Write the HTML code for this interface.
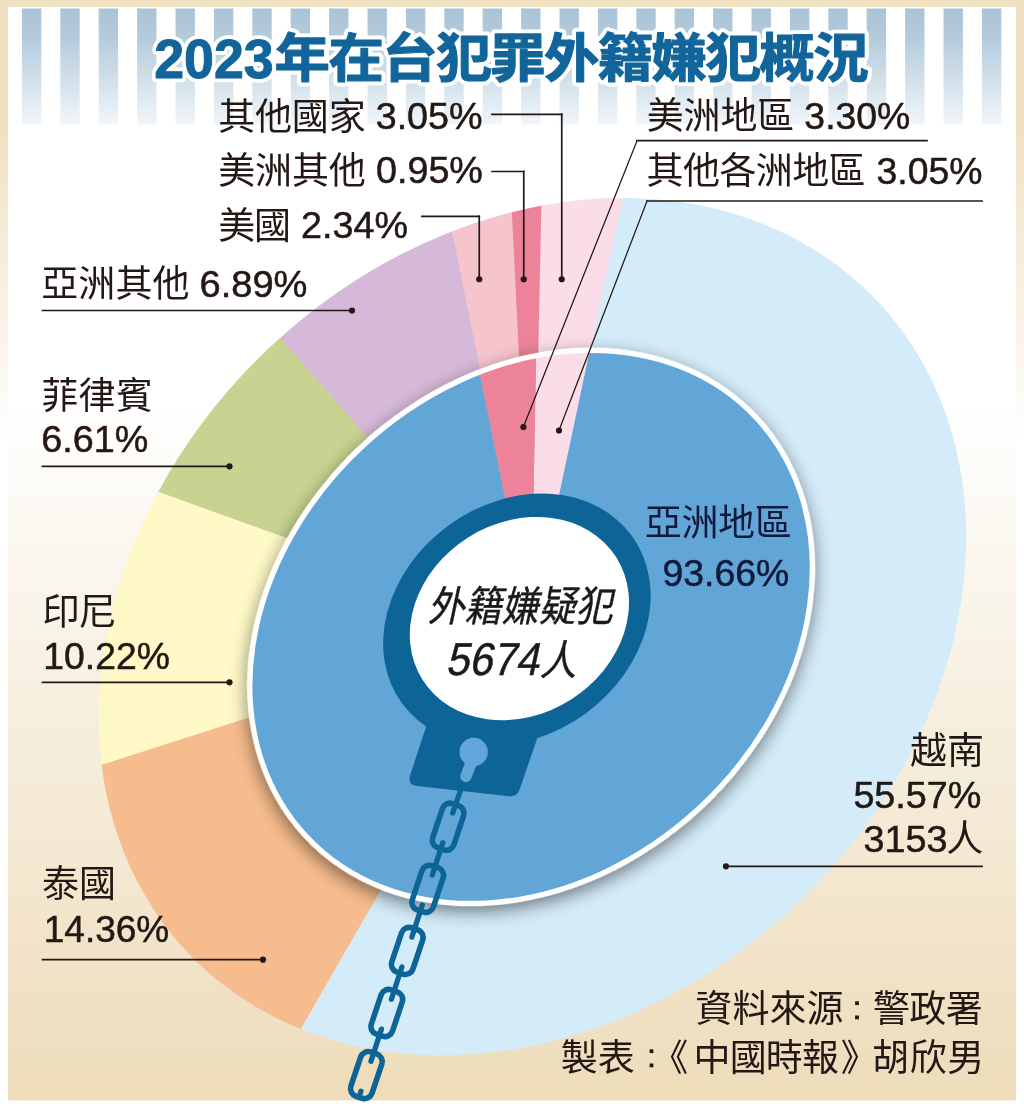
<!DOCTYPE html>
<html lang="zh-Hant"><head><meta charset="utf-8"><title>2023年在台犯罪外籍嫌犯概況</title>
<style>html,body{margin:0;padding:0;background:#fff}body{width:1024px;height:1109px;overflow:hidden;font-family:"Liberation Sans","Noto Sans CJK TC",sans-serif}svg{display:block;will-change:transform}</style></head><body>
<svg width="1024" height="1109" viewBox="0 0 1024 1109" font-family="'Liberation Sans', 'Noto Sans CJK TC', sans-serif">
<title>2023年在台犯罪外籍嫌犯概況</title>
<desc>2023年在台犯罪外籍嫌犯概況。外籍嫌疑犯 5674人。亞洲地區 93.66%、美洲地區 3.30%、其他各洲地區 3.05%。越南 55.57% 3153人、泰國 14.36%、印尼 10.22%、菲律賓 6.61%、亞洲其他 6.89%、美國 2.34%、美洲其他 0.95%、其他國家 3.05%。資料來源：警政署　製表：《中國時報》胡欣男</desc>
<defs>
<linearGradient id="gframe" x1="0" y1="0" x2="0" y2="1"><stop offset="0" stop-color="#f0e1c3"/><stop offset="0.12" stop-color="#f0e1c3"/><stop offset="0.4" stop-color="#ffffff"/><stop offset="1" stop-color="#ffffff"/></linearGradient>
<linearGradient id="gpanel" x1="0" y1="0" x2="0" y2="1"><stop offset="0" stop-color="#ffffff"/><stop offset="0.36" stop-color="#ffffff"/><stop offset="0.7" stop-color="#f5ecd9"/><stop offset="1" stop-color="#eedcba"/></linearGradient>
<linearGradient id="gstripe" x1="0" y1="0" x2="0" y2="1"><stop offset="0" stop-color="#a9c3d6"/><stop offset="0.25" stop-color="#b4cbdb"/><stop offset="1" stop-color="#f1f6fa"/></linearGradient>
<filter id="shadow" x="-15%" y="-15%" width="130%" height="130%"><feGaussianBlur in="SourceAlpha" stdDeviation="9"/><feOffset dx="4" dy="-4"/><feComponentTransfer><feFuncA type="linear" slope="0.5"/></feComponentTransfer><feMerge><feMergeNode/><feMergeNode in="SourceGraphic"/></feMerge></filter>
</defs>
<rect width="1024" height="1109" fill="url(#gframe)"/>
<rect x="8" y="7" width="1008" height="1093.5" fill="url(#gpanel)"/>
<rect x="21.9" y="8.5" width="19.4" height="116" fill="url(#gstripe)"/>
<rect x="60.3" y="8.5" width="19.4" height="116" fill="url(#gstripe)"/>
<rect x="98.7" y="8.5" width="19.4" height="116" fill="url(#gstripe)"/>
<rect x="137.1" y="8.5" width="19.4" height="116" fill="url(#gstripe)"/>
<rect x="175.5" y="8.5" width="19.4" height="116" fill="url(#gstripe)"/>
<rect x="213.9" y="8.5" width="19.4" height="116" fill="url(#gstripe)"/>
<rect x="252.3" y="8.5" width="19.4" height="116" fill="url(#gstripe)"/>
<rect x="290.7" y="8.5" width="19.4" height="116" fill="url(#gstripe)"/>
<rect x="329.1" y="8.5" width="19.4" height="116" fill="url(#gstripe)"/>
<rect x="367.5" y="8.5" width="19.4" height="116" fill="url(#gstripe)"/>
<rect x="405.9" y="8.5" width="19.4" height="116" fill="url(#gstripe)"/>
<rect x="444.3" y="8.5" width="19.4" height="116" fill="url(#gstripe)"/>
<rect x="482.7" y="8.5" width="19.4" height="116" fill="url(#gstripe)"/>
<rect x="521.1" y="8.5" width="19.4" height="116" fill="url(#gstripe)"/>
<rect x="559.5" y="8.5" width="19.4" height="116" fill="url(#gstripe)"/>
<rect x="597.9" y="8.5" width="19.4" height="116" fill="url(#gstripe)"/>
<rect x="636.3" y="8.5" width="19.4" height="116" fill="url(#gstripe)"/>
<rect x="674.7" y="8.5" width="19.4" height="116" fill="url(#gstripe)"/>
<rect x="713.1" y="8.5" width="19.4" height="116" fill="url(#gstripe)"/>
<rect x="751.5" y="8.5" width="19.4" height="116" fill="url(#gstripe)"/>
<rect x="789.9" y="8.5" width="19.4" height="116" fill="url(#gstripe)"/>
<rect x="828.3" y="8.5" width="19.4" height="116" fill="url(#gstripe)"/>
<rect x="866.7" y="8.5" width="19.4" height="116" fill="url(#gstripe)"/>
<rect x="905.1" y="8.5" width="19.4" height="116" fill="url(#gstripe)"/>
<rect x="943.5" y="8.5" width="19.4" height="116" fill="url(#gstripe)"/>
<rect x="981.9" y="8.5" width="19.4" height="116" fill="url(#gstripe)"/>
<g transform="translate(532.37,626.64) rotate(136.63) scale(474.39,383.25)">
<circle r="1" fill="#d4ebf9"/>
<path d="M0 0L-0.75904 0.65104A1 1 0 0 0 -0.62169 0.78326Z" fill="#fbdde9"/>
<path d="M0 0L-0.62306 0.78217A1 1 0 0 0 -0.56698 0.82373Z" fill="#ec8399"/>
<path d="M0 0L-0.56842 0.82274A1 1 0 0 0 -0.44745 0.89431Z" fill="#f5c4cc"/>
<path d="M0 0L-0.44901 0.89353A1 1 0 0 0 -0.03002 0.99955Z" fill="#d6b9d9"/>
<path d="M0 0L-0.03176 0.99950A1 1 0 0 0 0.37962 0.92514Z" fill="#c8d391"/>
<path d="M0 0L0.37800 0.92580A1 1 0 0 0 0.86119 0.50829Z" fill="#fef9c7"/>
<path d="M0 0L0.86030 0.50979A1 1 0 0 0 0.93746 -0.34808Z" fill="#f6bc8d"/>
</g>
<g transform="translate(531.1,626.89) rotate(137.26)">
<ellipse rx="309.71" ry="249.66" fill="#fff" filter="url(#shadow)"/>
<g transform="scale(308.71,248.66)">
<circle r="1" fill="#62a6d8"/>
<path d="M0 0L-0.75126 0.66000A1 1 0 0 0 -0.61084 0.79176Z" fill="#fbdde9"/>
<path d="M0 0L-0.61153 0.79122A1 1 0 0 0 -0.43916 0.89841Z" fill="#ec8399"/>
</g>
<ellipse rx="307.21" ry="247.16" fill="none" stroke="#fff" stroke-width="5"/>
</g>
<g id="cuff">
<g fill="none" stroke="#0d6597" stroke-linecap="round">
<rect x="437" y="803.35" width="22.3" height="46.7" rx="8" stroke-width="5.6" transform="rotate(18.5 448.15 826.7)"/>
<path d="M460.6 790L452.75 812.95" stroke-width="5.3"/>
<rect x="416.55" y="865.45" width="22.3" height="46.7" rx="8" stroke-width="5.6" transform="rotate(18.5 427.7 888.8)"/>
<path d="M442.76 842.82L432.3 875.05" stroke-width="5.3"/>
<rect x="396.1" y="927.55" width="22.3" height="46.7" rx="8" stroke-width="5.6" transform="rotate(18.5 407.25 950.9)"/>
<path d="M422.31 904.92L411.85 937.15" stroke-width="5.3"/>
<rect x="375.65" y="989.65" width="22.3" height="46.7" rx="8" stroke-width="5.6" transform="rotate(18.5 386.8 1013)"/>
<path d="M401.86 967.02L391.4 999.25" stroke-width="5.3"/>
<rect x="355.2" y="1051.75" width="22.3" height="46.7" rx="8" stroke-width="5.6" transform="rotate(18.5 366.35 1075.1)"/>
<path d="M381.41 1029.12L370.95 1061.35" stroke-width="5.3"/>
<path d="M360.96 1091.22L360 1094.07" stroke-width="5.3"/>
</g>
<path d="M431 712 L426 727 L410.3 774.8 Q406.8 785 417 785.9 L509 796.3 Q517 797.2 519.6 789.6 L537 739 L541.5 726 Z" fill="#0d6597"/>
<g transform="translate(516.9,619.6) rotate(143.8)"><ellipse rx="142.2" ry="116.4" fill="#0d6597"/></g>
<g transform="translate(519.4,618.6) rotate(147.7)"><ellipse rx="114.6" ry="96" fill="#fff"/></g>
<circle cx="473.7" cy="752" r="14.2" fill="#62a6d8"/>
<path d="M471.5 762 L466 776.3" stroke="#62a6d8" stroke-width="11.5" stroke-linecap="round"/>
</g>
<path d="M492 114.3 L561.75 114.3" fill="none" stroke="#231815" stroke-width="1.7" stroke-linecap="square"/>
<path d="M561.75 114.3 L561.75 279.25" fill="none" stroke="#231815" stroke-width="1.7" stroke-linecap="square"/>
<circle cx="561.75" cy="279.25" r="3.1" fill="#231815"/>
<path d="M492 171.5 L523.75 171.5" fill="none" stroke="#231815" stroke-width="1.7" stroke-linecap="square"/>
<path d="M523.75 171.5 L523.75 279.25" fill="none" stroke="#231815" stroke-width="1.7" stroke-linecap="square"/>
<circle cx="523.75" cy="279.25" r="3.1" fill="#231815"/>
<path d="M421.8 216.3 L479.25 216.3" fill="none" stroke="#231815" stroke-width="1.7" stroke-linecap="square"/>
<path d="M479.25 216.3 L479.25 279.25" fill="none" stroke="#231815" stroke-width="1.7" stroke-linecap="square"/>
<circle cx="479.25" cy="279.25" r="3.1" fill="#231815"/>
<path d="M927 140.7 L637 140.7" fill="none" stroke="#231815" stroke-width="1.7" stroke-linecap="square"/>
<path d="M637 140.7 L523.4 427" fill="none" stroke="#231815" stroke-width="1.25" stroke-linecap="square"/>
<circle cx="523.4" cy="427" r="3.1" fill="#231815"/>
<path d="M982 201 L647 201" fill="none" stroke="#231815" stroke-width="1.7" stroke-linecap="square"/>
<path d="M647 201 L559 430.5" fill="none" stroke="#231815" stroke-width="1.25" stroke-linecap="square"/>
<circle cx="559" cy="430.5" r="3.1" fill="#231815"/>
<path d="M42.5 310.5 L352 310.5" fill="none" stroke="#231815" stroke-width="1.7" stroke-linecap="square"/>
<circle cx="352" cy="310.5" r="3.1" fill="#231815"/>
<path d="M42.5 466.3 L229.5 466.3" fill="none" stroke="#231815" stroke-width="1.7" stroke-linecap="square"/>
<circle cx="229.5" cy="466.3" r="3.1" fill="#231815"/>
<path d="M42.5 682.3 L229.5 682.3" fill="none" stroke="#231815" stroke-width="1.7" stroke-linecap="square"/>
<circle cx="229.5" cy="682.3" r="3.1" fill="#231815"/>
<path d="M42.5 959.7 L263 959.7" fill="none" stroke="#231815" stroke-width="1.7" stroke-linecap="square"/>
<circle cx="263" cy="959.7" r="3.1" fill="#231815"/>
<path d="M982 866.3 L726 866.3" fill="none" stroke="#231815" stroke-width="1.7" stroke-linecap="square"/>
<circle cx="726" cy="866.3" r="3.1" fill="#231815"/>
<text x="218.2 255.01 291.82 328.63" y="130.16" font-size="37" fill="#231815">其他國家</text>
<text transform="translate(375.66,128.9) scale(1.02,1)" font-size="37" fill="#231815" stroke="#231815" stroke-width="0.5">3.05%</text>
<text x="218.31 255.11 291.91 328.71" y="183.87" font-size="37" fill="#231815">美洲其他</text>
<text transform="translate(375.93,183.2) scale(1.02,1)" font-size="37" fill="#231815" stroke="#231815" stroke-width="0.5">0.95%</text>
<text x="218.31 254.01" y="238.87" font-size="37" fill="#231815">美國</text>
<text transform="translate(301,237.6) scale(1.02,1)" font-size="37" fill="#231815" stroke="#231815" stroke-width="0.5">2.34%</text>
<text x="646.71 683.54 720.38 757.21" y="128.62" font-size="37" fill="#231815">美洲地區</text>
<text transform="translate(804.37,128.8) scale(1.01,1)" font-size="37" fill="#231815" stroke="#231815" stroke-width="0.5">3.30%</text>
<text x="646.6 683 719.4 755.81 792.21 828.61" y="183.92" font-size="37" fill="#231815">其他各洲地區</text>
<text transform="translate(876.48,184.1) scale(1.01,1)" font-size="37" fill="#231815" stroke="#231815" stroke-width="0.5">3.05%</text>
<text x="41.24 78.36 115.48 152.61" y="297.25" font-size="37" fill="#231815">亞洲其他</text>
<text transform="translate(199.46,296.8) scale(1.03,1)" font-size="37" fill="#231815" stroke="#231815" stroke-width="0.5">6.89%</text>
<text x="41.13 78.51 115.88" y="408.76" font-size="37" fill="#231815">菲律賓</text>
<text transform="translate(41.28,452.1) scale(1.02,1)" font-size="37" fill="#231815" stroke="#231815" stroke-width="0.5">6.61%</text>
<text x="42.49 79.17" y="624.86" font-size="37" fill="#231815">印尼</text>
<text transform="translate(43.25,669) scale(1.01,1)" font-size="37" fill="#231815" stroke="#231815" stroke-width="0.5">10.22%</text>
<text x="41.96 79.11" y="897.23" font-size="37" fill="#231815">泰國</text>
<text transform="translate(43.78,941.6) scale(1,1)" font-size="37" fill="#231815" stroke="#231815" stroke-width="0.5">14.36%</text>
<text x="909.93 947.08" y="763.72" font-size="37" fill="#231815">越南</text>
<text transform="translate(853.39,807.5) scale(1.02,1)" font-size="37" fill="#231815" stroke="#231815" stroke-width="0.5">55.57%</text>
<text transform="translate(863.47,852) scale(1.02,1)" font-size="37" fill="#231815" stroke="#231815" stroke-width="0.5">3153</text>
<text x="946.24" y="852.29" font-size="37" fill="#231815">人</text>
<text x="644.74 681.43 718.12 754.81" y="536.24" font-size="37" fill="#121a3c">亞洲地區</text>
<text transform="translate(662.54,585.7) scale(1.01,1)" font-size="37" fill="#121a3c" stroke="#121a3c" stroke-width="0.5">93.66%</text>
<text x="695.35 732.41 769.47 806.53" y="1022.47" font-size="37" fill="#231815">資料來源</text>
<text x="873 909.35 945.7" y="1022.42" font-size="37" fill="#231815">警政署</text>
<text x="560.82 597.79" y="1070.89" font-size="37" fill="#231815">製表</text>
<text x="693.57 729.7 765.82 801.95" y="1070.82" font-size="37" fill="#231815">中國時報</text>
<text x="872.12 909.7 947.28" y="1070.83" font-size="37" fill="#231815">胡欣男</text>
<text x="651.15" y="1070.87" font-size="37" fill="#231815">《</text>
<text x="840.79" y="1070.87" font-size="37" fill="#231815">》</text>
<rect x="855.1" y="1001.3" width="3.8" height="3.8" fill="#231815"/>
<rect x="855.1" y="1015.5" width="3.8" height="3.8" fill="#231815"/>
<rect x="649.6" y="1049.3" width="3.8" height="3.8" fill="#231815"/>
<rect x="649.6" y="1063.5" width="3.8" height="3.8" fill="#231815"/>
<g transform="translate(0,621) skewX(-12) translate(0,-621)">
<text transform="translate(427.86,621) scale(0.8867,1)" x="0 41.67 83.34 125.01 166.68" y="0" font-size="41.5" fill="#1a1a1a" stroke="#1a1a1a" stroke-width="0.4">外籍嫌疑犯</text>
</g>
<g transform="translate(0,674.5) skewX(-12) translate(0,-674.5)">
<text transform="translate(445.52,674.5) scale(0.91,1)" font-size="46" fill="#1a1a1a" stroke="#1a1a1a" stroke-width="0.5">5674</text>
<text transform="translate(539.73,674.5) scale(0.8795,1)" font-size="41.5" fill="#1a1a1a" stroke="#1a1a1a" stroke-width="0.4">人</text>
</g>
<text transform="translate(154.14,78) scale(0.96,1)" font-size="56" fill="#fff" font-weight="bold" stroke="#fff" stroke-width="8.47" stroke-linejoin="round">2023</text>
<text transform="translate(274.55,77.35) scale(1.0551,1)" x="0 51.06 102.11 153.17 204.22 255.28 306.33 357.39 408.44 459.5 510.55" y="0" font-size="52.6" font-weight="bold" fill="#fff" stroke="#fff" stroke-width="8.8" stroke-linejoin="round">年在台犯罪外籍嫌犯概況</text>
<text transform="translate(154.14,78) scale(0.96,1)" font-size="56" fill="#12659b" font-weight="bold" stroke="#12659b" stroke-width="1">2023</text>
<text transform="translate(274.55,77.35) scale(1.0551,1)" x="0 51.06 102.11 153.17 204.22 255.28 306.33 357.39 408.44 459.5 510.55" y="0" font-size="52.6" font-weight="bold" fill="#12659b" stroke="#12659b" stroke-width="1.1" stroke-linejoin="round">年在台犯罪外籍嫌犯概況</text>
</svg>
</body></html>
